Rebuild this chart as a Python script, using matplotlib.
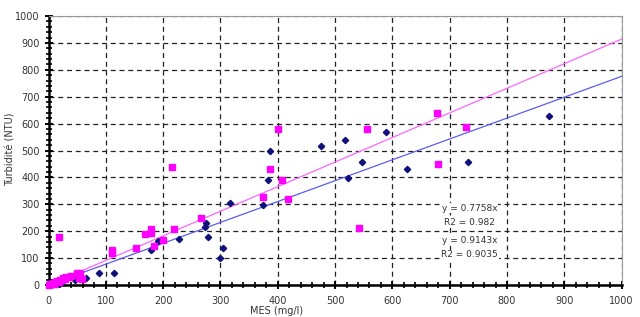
import numpy as np
import matplotlib
matplotlib.use("Agg")
import matplotlib.pyplot as plt
from matplotlib.ticker import MultipleLocator

# navy diamonds
mes_a = [2, 5, 8, 12, 15, 20, 25, 46, 65, 88, 115, 178, 191, 228, 273, 275, 278,
         300, 304, 316, 374, 383, 386, 475, 517, 522, 547, 588, 625, 731, 873]
turb_a = [2, 3, 5, 8, 5, 10, 15, 19, 26, 45, 45, 130, 164, 171, 216, 230, 178,
          100, 138, 305, 297, 390, 498, 517, 539, 398, 457, 569, 430, 457, 628]

# magenta squares
mes_b = [0, 3, 5, 8, 10, 12, 15, 18, 19, 20, 22, 25, 28, 30, 35, 40, 49, 53, 55, 58,
         110, 110, 152, 168, 178, 179, 184, 200, 216, 219, 266, 374, 386, 400, 407,
         418, 541, 555, 678, 679, 728]
turb_b = [0, 3, 5, 8, 5, 10, 15, 12, 179, 20, 18, 25, 22, 28, 30, 35, 45, 25, 45, 22,
          119, 130, 138, 190, 193, 208, 145, 167, 438, 208, 249, 327, 431, 580, 390,
          320, 212, 580, 640, 450, 588]

slope_a = 0.7758
slope_b = 0.9143
labels = ["y = 0.7758x", "R2 = 0.982", "y = 0.9143x", "R2 = 0.9035"]

fig = plt.figure(figsize=(6.4, 3.17), dpi=100)
ax = fig.add_axes([0.0758, 0.1009, 0.8956, 0.8486])

ax.set_xlim(0, 1000)
ax.set_ylim(0, 1000)
ax.xaxis.set_major_locator(MultipleLocator(100))
ax.yaxis.set_major_locator(MultipleLocator(100))
ax.xaxis.set_minor_locator(MultipleLocator(20))
ax.yaxis.set_minor_locator(MultipleLocator(20))
ax.grid(True, which="major", color="#222222", linestyle=(0, (4, 3)), linewidth=0.9)

xs = np.array([0, 1000])
ax.plot(xs, slope_a * xs, color="#5c5cf0", linewidth=0.9, zorder=3)
ax.plot(xs, slope_b * xs, color="#ff66ff", linewidth=0.9, zorder=3)

ax.plot(mes_a, turb_a, linestyle="none", marker="D", markersize=3.2,
        color="#10107a", zorder=4, clip_on=False)
ax.plot(mes_b, turb_b, linestyle="none", marker="s", markersize=4.3,
        color="#ff00ff", zorder=4, clip_on=False)

for s in ["left", "bottom"]:
    ax.spines[s].set_linewidth(1.8)
    ax.spines[s].set_color("black")
for s in ["top", "right"]:
    ax.spines[s].set_linewidth(0.8)
    ax.spines[s].set_color("#999999")

ax.tick_params(which="major", direction="inout", length=6, width=1.4,
               labelsize=7, colors="black", labelcolor="#333333",
               top=False, right=False)
ax.tick_params(which="minor", direction="inout", length=4, width=1.2,
               top=False, right=False)
ax.tick_params(axis="x", pad=5)

fig.text(0.017, 0.53, "Turbidité (NTU)", fontsize=7, color="#333333",
         rotation=90, ha="center", va="center")
fig.text(0.39, 0.002, "MES (mg/l)", fontsize=7, color="#333333", va="bottom")

ypos = [286, 234, 164, 112]
for lab, yv in zip(labels, ypos):
    ax.text(735, yv, lab, fontsize=6.5, color="#333333", ha="center", va="center",
            zorder=5, bbox=dict(facecolor="white", edgecolor="none", pad=0.5))

fig.savefig("out.png", dpi=100)
